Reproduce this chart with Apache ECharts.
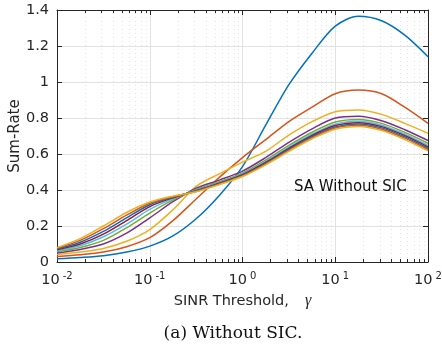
<!DOCTYPE html>
<html>
<head>
<meta charset="utf-8">
<script src="https://cdn.jsdelivr.net/npm/echarts@6/dist/echarts.min.js"></script>
<style>
  html, body { margin: 0; padding: 0; background: #fff; }
  #chart { width: 442px; height: 351px; }
</style>
</head>
<body>
<div id="chart"></div>
<script>
// SINR threshold as powers of ten: gamma = 10^e
const gammaExp = [-2, -1.75, -1.5, -1.25, -1, -0.75, -0.5, -0.25, 0, 0.25, 0.5, 0.75, 1, 1.25, 1.5, 1.75, 2];

// sum-rate curves (bottom to top at gamma = 1e-2)
const rate1  = [0.018, 0.025, 0.035, 0.055, 0.088, 0.145, 0.24, 0.37, 0.53, 0.76, 0.985, 1.16, 1.31, 1.365, 1.34, 1.26, 1.14];
const rate2  = [0.03, 0.04, 0.055, 0.085, 0.135, 0.23, 0.35, 0.47, 0.58, 0.68, 0.78, 0.86, 0.935, 0.955, 0.935, 0.86, 0.77];
const rate3  = [0.042, 0.055, 0.075, 0.115, 0.18, 0.29, 0.42, 0.49, 0.555, 0.615, 0.705, 0.78, 0.835, 0.845, 0.82, 0.77, 0.715];
const rate4  = [0.05, 0.07, 0.1, 0.16, 0.245, 0.335, 0.41, 0.455, 0.505, 0.58, 0.665, 0.74, 0.8, 0.81, 0.785, 0.735, 0.675];
const rate5  = [0.057, 0.08, 0.12, 0.19, 0.272, 0.345, 0.403, 0.446, 0.495, 0.566, 0.648, 0.721, 0.778, 0.792, 0.77, 0.72, 0.66];
const rate6  = [0.063, 0.09, 0.14, 0.21, 0.292, 0.352, 0.399, 0.441, 0.489, 0.558, 0.638, 0.71, 0.766, 0.782, 0.76, 0.71, 0.648];
const rate7  = [0.068, 0.1, 0.155, 0.23, 0.308, 0.357, 0.396, 0.438, 0.485, 0.553, 0.631, 0.703, 0.758, 0.774, 0.752, 0.702, 0.64];
const rate8  = [0.072, 0.11, 0.17, 0.245, 0.318, 0.36, 0.394, 0.435, 0.481, 0.548, 0.625, 0.696, 0.75, 0.767, 0.745, 0.695, 0.632];
const rate9  = [0.076, 0.12, 0.185, 0.26, 0.326, 0.363, 0.392, 0.433, 0.478, 0.544, 0.62, 0.69, 0.744, 0.76, 0.738, 0.688, 0.625];
const rate10 = [0.08, 0.13, 0.2, 0.275, 0.333, 0.366, 0.39, 0.43, 0.475, 0.54, 0.615, 0.685, 0.738, 0.753, 0.73, 0.68, 0.617];

const rates = [rate1, rate2, rate3, rate4, rate5, rate6, rate7, rate8, rate9, rate10];
// matlab default line colours
const colors = ['#0072BD', '#D95319', '#EDB120', '#7E2F8E', '#77AC30', '#4DBEEE', '#A2142F', '#0072BD', '#D95319', '#EDB120'];

// minor grid positions (2..9 in every decade)
const minorGamma = [0.02, 0.03, 0.04, 0.05, 0.06, 0.07, 0.08, 0.09,
  0.2, 0.3, 0.4, 0.5, 0.6, 0.7, 0.8, 0.9,
  2, 3, 4, 5, 6, 7, 8, 9,
  20, 30, 40, 50, 60, 70, 80, 90];

const sans = 'DejaVu Sans';
const ink = '#262626';

const chart = echarts.init(document.getElementById('chart'));

const lineSeries = rates.map((r, i) => ({
  type: 'line',
  data: gammaExp.map((e, k) => [Math.pow(10, e), r[k]]),
  showSymbol: false,
  smooth: 0.3,
  lineStyle: { color: colors[i], width: 1.5 },
  itemStyle: { color: colors[i] },
  z: 3
}));

const option = {
  animation: false,
  grid: { left: 57, right: 14, top: 10, bottom: 89, containLabel: false, outerBoundsMode: 'none' },
  xAxis: [
    {
      type: 'log',
      logBase: 10,
      min: 0.01,
      max: 100,
      position: 'bottom',
      axisLine: { show: true, onZero: false, lineStyle: { color: ink, width: 1 } },
      axisTick: { show: true, inside: true, length: 5, lineStyle: { color: ink } },
      splitLine: { show: true, lineStyle: { color: '#e2e2e2', width: 1 } },
      axisLabel: {
        margin: 9,
        formatter: function (v) {
          const e = Math.round(Math.log10(v));
          return '{b|10}{s|' + e + '}';
        },
        rich: {
          b: { fontFamily: sans, fontSize: 14.5, color: ink, verticalAlign: 'bottom' },
          s: { fontFamily: sans, fontSize: 10, color: ink, verticalAlign: 'bottom', padding: [0, 0, 7, 3] }
        }
      },
      name: '{t|SINR Threshold,}{g|γ}',
      nameLocation: 'middle',
      nameGap: 30,
      nameTextStyle: {
        rich: {
          t: { fontFamily: sans, fontSize: 14.5, color: ink },
          g: { fontFamily: 'Liberation Serif', fontStyle: 'italic', fontSize: 16, color: ink, padding: [0, 0, 0, 16] }
        }
      }
    },
    {
      type: 'log',
      logBase: 10,
      min: 0.01,
      max: 100,
      position: 'top',
      axisLine: { show: true, onZero: false, lineStyle: { color: ink, width: 1 } },
      axisTick: { show: true, inside: true, length: 5, lineStyle: { color: ink } },
      axisLabel: { show: false },
      splitLine: { show: false }
    }
  ],
  yAxis: [
    {
      type: 'value',
      min: 0,
      max: 1.4,
      interval: 0.2,
      position: 'left',
      axisLine: { show: true, onZero: false, lineStyle: { color: ink, width: 1 } },
      axisTick: { show: true, inside: true, length: 5, lineStyle: { color: ink } },
      splitLine: { show: true, lineStyle: { color: '#e2e2e2', width: 1 } },
      axisLabel: { fontFamily: sans, fontSize: 14.5, color: ink, margin: 8 },
      name: 'Sum-Rate',
      nameLocation: 'middle',
      nameGap: 34,
      nameMoveOverlap: false,
      nameTextStyle: { fontFamily: sans, fontSize: 15, color: ink }
    },
    {
      type: 'value',
      min: 0,
      max: 1.4,
      interval: 0.2,
      position: 'right',
      axisLine: { show: true, onZero: false, lineStyle: { color: ink, width: 1 } },
      axisTick: { show: true, inside: true, length: 5, lineStyle: { color: ink } },
      axisLabel: { show: false },
      splitLine: { show: false }
    }
  ],
  series: [
    {
      // dotted minor grid plus minor ticks on the box
      type: 'custom',
      silent: true,
      z: 1,
      data: minorGamma.map(v => [v, 0]),
      encode: { x: 0, y: 1 },
      renderItem: function (params, api) {
        const x = api.value(0);
        const bot = api.coord([x, 0]);
        const top = api.coord([x, 1.4]);
        const px = Math.round(bot[0]) + 0.5;
        return {
          type: 'group',
          children: [
            { type: 'line', shape: { x1: px, y1: bot[1], x2: px, y2: top[1] }, style: { stroke: '#e4e4e4', lineWidth: 1, lineDash: [1, 3] } },
            { type: 'line', shape: { x1: px, y1: bot[1], x2: px, y2: bot[1] - 3 }, style: { stroke: ink, lineWidth: 1 } },
            { type: 'line', shape: { x1: px, y1: top[1], x2: px, y2: top[1] + 3 }, style: { stroke: ink, lineWidth: 1 } }
          ]
        };
      }
    }
  ].concat(lineSeries),
  graphic: [
    {
      type: 'text',
      x: 294,
      y: 187,
      style: { text: 'SA Without SIC', fontFamily: sans, fontSize: 15, fill: '#111', align: 'left', verticalAlign: 'middle' },
      z: 10
    },
    {
      type: 'text',
      x: 233,
      y: 334,
      style: { text: '(a) Without SIC.', fontFamily: 'DejaVu Serif', fontSize: 17, fill: '#111', align: 'center', verticalAlign: 'middle' }
    }
  ]
};

chart.setOption(option);
</script>
</body>
</html>
